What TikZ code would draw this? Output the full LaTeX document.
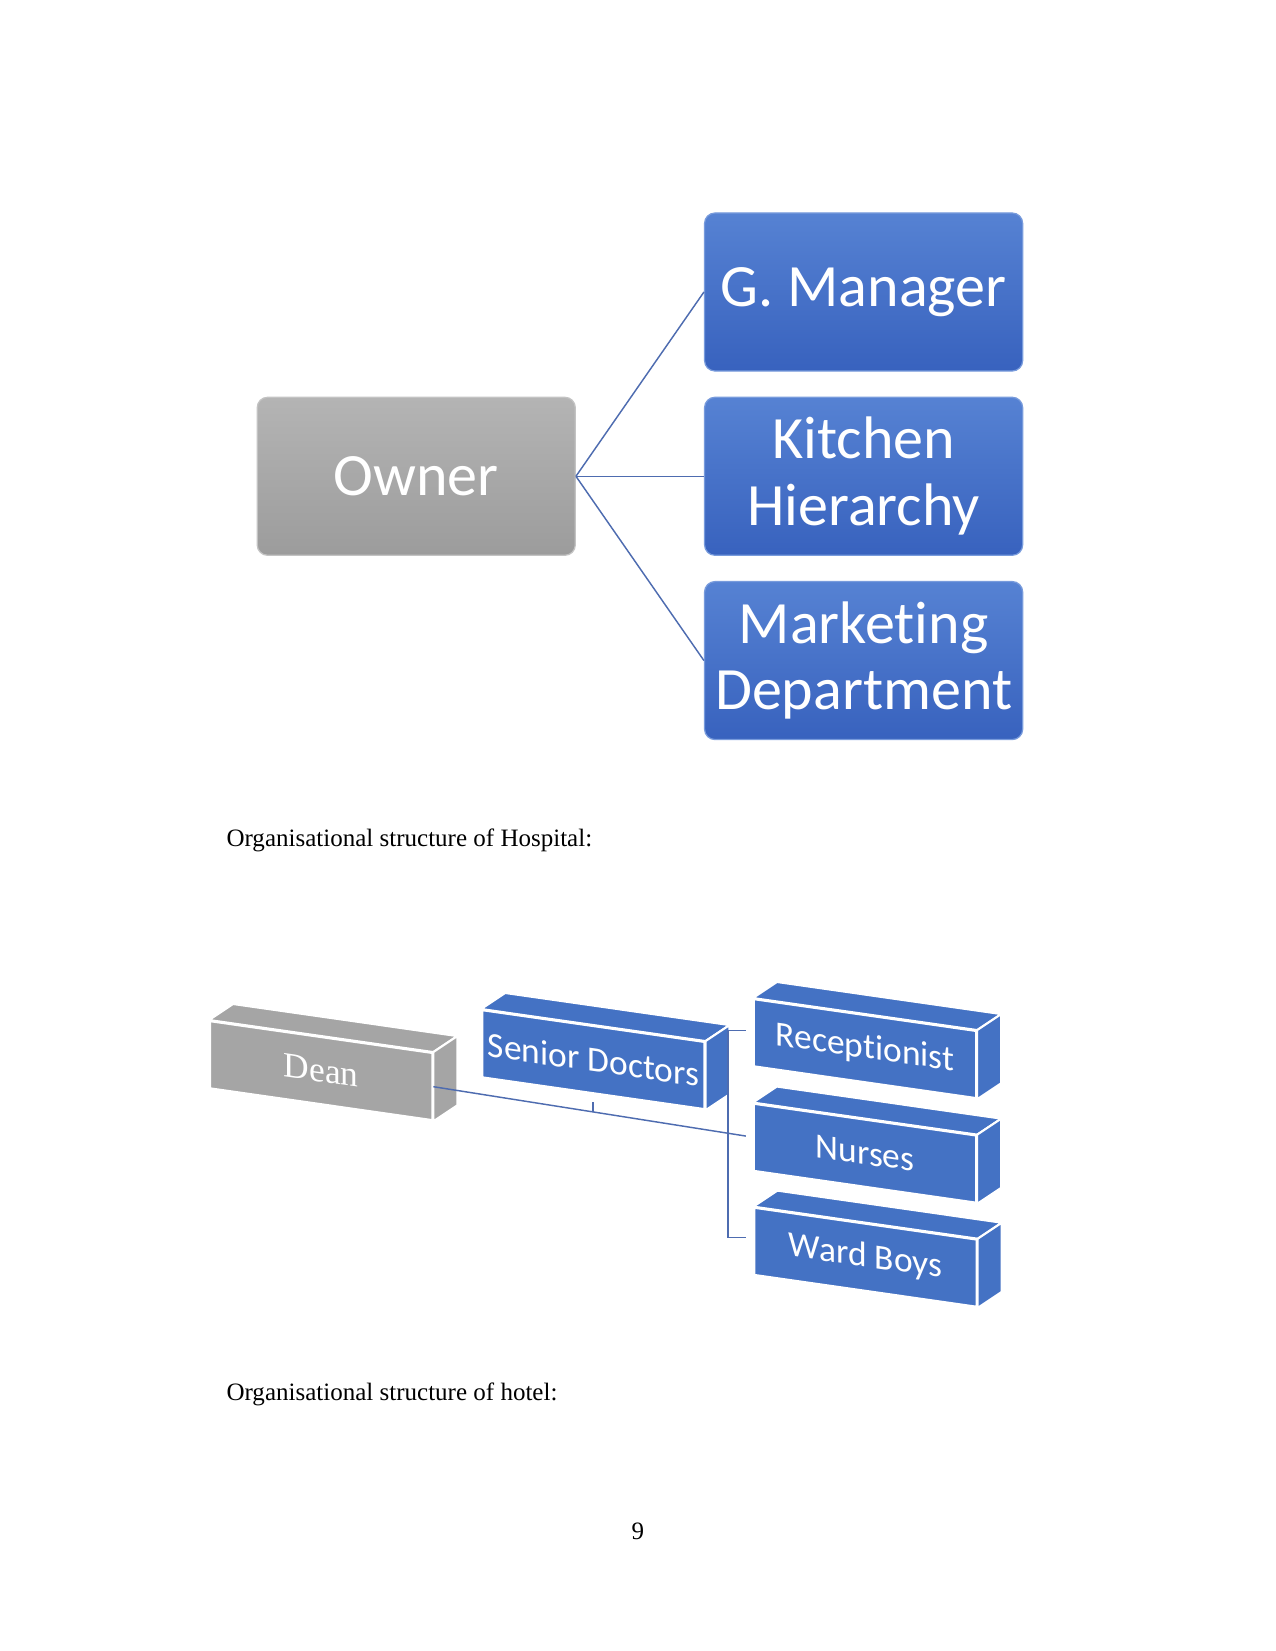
\documentclass[tikz,border=0pt]{standalone}
\usepackage{fontspec}
\setmainfont{Liberation Serif}
\newfontfamily\carlito[RawFeature={-liga;-clig;-dlig;-calt;-rlig}]{Carlito}
\usepackage{tikz}
\definecolor{smartblue}{RGB}{68,114,196}
\definecolor{smartgrey}{RGB}{165,165,165}
\definecolor{linkblue}{RGB}{78,108,176}
\definecolor{glossblue}{RGB}{86,130,211}
\definecolor{deepblue}{RGB}{56,98,190}
\definecolor{glossgrey}{RGB}{180,180,180}
\definecolor{deepgrey}{RGB}{156,156,156}
\usetikzlibrary{positioning, calc}
\tikzset{
    orgbox/.style={rounded corners=5pt, align=center, text=white, minimum width=152.6pt,
      minimum height=75.8pt, inner sep=0pt, line width=0.6pt,
      font=\carlito\fontsize{28.8}{32}\selectfont},
    ownerbox/.style={orgbox, draw=glossgrey!80!white, top color=glossgrey, bottom color=deepgrey},
    deptbox/.style={orgbox, draw=glossblue!80!white, top color=glossblue, bottom color=deepblue},
    orglink/.style={draw=linkblue, line width=0.7pt},
    slab/.style={draw=white, line width=1pt, fill=smartblue, text=white, inner sep=0pt,
      minimum width=106.6pt, minimum height=32.2pt, yslant=-0.143,
      font=\carlito\fontsize{17}{20}\selectfont},
    deanslab/.style={slab, fill=smartgrey, font=\rmfamily\fontsize{17}{20}\selectfont},
    slabface/.style={draw=white, line width=1pt},
    hosplink/.style={draw=linkblue, line width=0.7pt},
    caption/.style={anchor=base west, inner sep=0pt, font=\fontsize{12}{14}\selectfont}
}
% top and side faces of a slab, drawn from its front node
\newcommand{\slabdepth}[2]{%
  \filldraw[slabface, fill=#2] (#1.north west) -- ++(24,-16)
    -- ($(#1.north east)+(24,-16)$) -- (#1.north east) -- cycle;
  \filldraw[slabface, fill=#2] (#1.north east) -- ++(24,-16)
    -- ($(#1.south east)+(24,-16)$) -- (#1.south east) -- cycle;}
\begin{document}
\begin{tikzpicture}[x=0.48pt, y=-0.48pt]
  \useasboundingbox (0,0) rectangle (1275,1650);
  % hotel chart
  \node[ownerbox] (owner) at (416,476) {Owner};
  \node[deptbox, right=61.4pt of owner] (kitchen) {Kitchen\\Hierarchy};
  \node[deptbox, above=12pt of kitchen] (gmanager) {G. Manager};
  \node[deptbox, below=12pt of kitchen] (marketing) {Market\kern0pt ing\\Department};
  \foreach \dept in {gmanager, kitchen, marketing}
    \draw[orglink] (owner.east) -- (\dept.west);

  \node[caption] (hosptitle) at (226,846) {Organisational structure of Hospital:};

  % hospital chart
  \node[deanslab] (dean) at (321,1070) {Dean};
  \slabdepth{dean}{smartgrey}
  \node[slab] (seniors) at (593,1059) {Senior Doctors};
  \slabdepth{seniors}{smartblue}
  \node[slab] (recept) at (864.5,1048) {Recept\kern0pt ionist};
  \slabdepth{recept}{smartblue}
  \node[slab] (nurses) at (864.5,1152.5) {Nurses};
  \slabdepth{nurses}{smartblue}
  \node[slab] (wardboys) at (865,1256.5) {Ward Boys};
  \slabdepth{wardboys}{smartblue}
  \draw[hosplink, shorten >=3.4pt] (dean.east) -- coordinate[pos=0.5] (hjoin) (nurses.west);
  \draw[hosplink] (hjoin) -- ++(0,-10);
  \draw[hosplink] ($(recept.west)+(-7,-2)$) -- ++(-18,0) |- ($(wardboys.west)+(-7,-4)$);

  \node[caption] (hoteltitle) at (226,1400) {Organisational structure of hotel:};
  \node[anchor=base, font=\fontsize{12}{14}\selectfont] (pagenum) at (637.5,1539) {9};
\end{tikzpicture}
\end{document}
